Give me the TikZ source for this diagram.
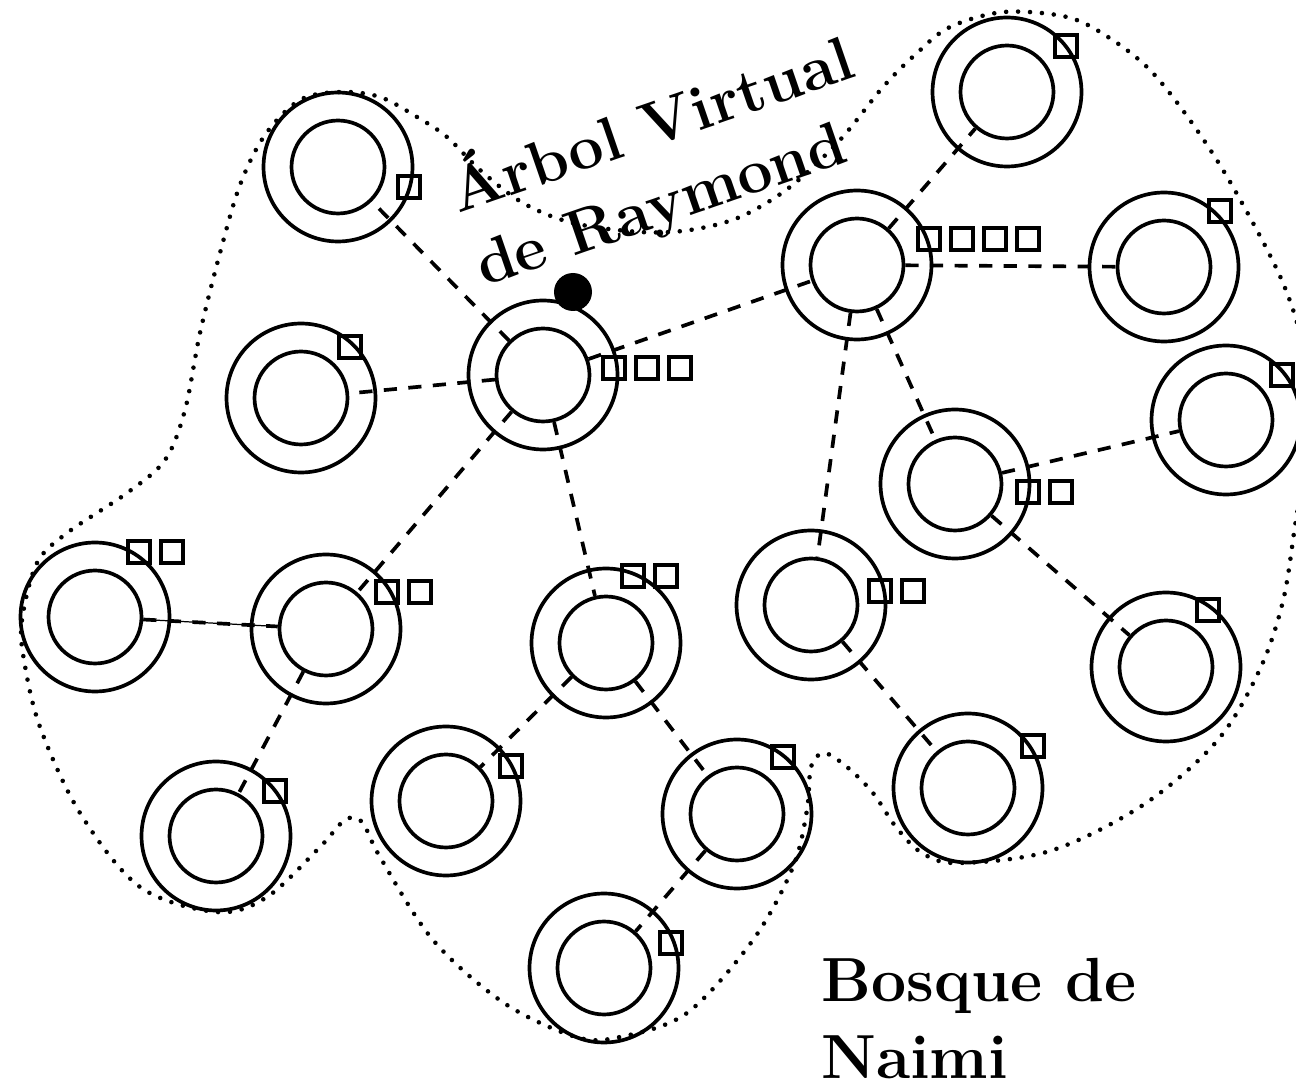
\documentclass[tikz,border=0pt]{standalone}
\usepackage{fontspec}
\tikzstyle{site}=[circle,draw,line width=2.1pt,minimum size=1.86cm,inner sep=0pt]
\tikzstyle{ring}=[line width=2.1pt]
\tikzstyle{msg}=[rectangle,draw,line width=2.3pt,minimum size=0.44cm,inner sep=0pt]
\tikzstyle{link}=[line width=2.1pt,dash pattern=on 7.5pt off 6.5pt]
\tikzstyle{forest}=[line width=2.6pt,line cap=round,dash pattern=on 0pt off 6.8pt]
\tikzstyle{title}=[font=\fontsize{35.5}{44}\selectfont\bfseries,align=left,inner sep=0pt]

\begin{document}
\begin{tikzpicture}[x=0.02cm,y=-0.02cm]
\useasboundingbox (0,0) rectangle (1296,1087);
% sites
\node[site] at (543,375) (r) {};
\node[site] at (338,167) (a) {};
\node[site] at (301,398) (b) {};
\node[site] at (857,265) (c) {};
\node[site] at (1007,92) (d) {};
\node[site] at (1164,267) (e) {};
\node[site] at (955,484) (f) {};
\node[site] at (1226,420) (g) {};
\node[site] at (95,617) (h) {};
\node[site] at (326,629) (i) {};
\node[site] at (606,643) (j) {};
\node[site] at (811,605) (k) {};
\node[site] at (1166,667) (l) {};
\node[site] at (216,836) (m) {};
\node[site] at (446,801) (n) {};
\node[site] at (737,814) (o) {};
\node[site] at (968,788) (p) {};
\node[site] at (604,968) (q) {};
\foreach \s in {r,a,b,c,d,e,f,g,h,i,j,k,l,m,n,o,p,q}
  \draw[ring] (\s) circle (1.49cm);
% token holder
\node[circle,fill=black,minimum size=0.76cm,inner sep=0pt] at (573,292) (token) {};
% pending requests
\foreach \x/\y/\k in {409/187/1, 350/347/1, 614/368/3, 929/239/4, 1066/46/1,
    1220/211/1, 1028/492/2, 1282/375/1, 139/552/2, 387/592/2, 633/576/2,
    880/591/2, 1208/610/1, 275/791/1, 511/766/1, 783/757/1, 1033/746/1, 671/943/1}
  \foreach \i in {1,...,\k}
    \node[msg] at ({\x+33*(\i-1)},\y) (req\x-\i) {};
% tree edges
\draw[link] (r) -- (a);
\draw[link] (r) -- (b);
\draw[link] (r) -- (c);
\draw[link] (r) -- (i);
\draw[link] (r) -- (j);
\draw[link] (c) -- (d);
\draw[link] (c) -- (e);
\draw[link] (c) -- (f);
\draw[link] (c) -- (k);
\draw[link] (f) -- (g);
\draw[link] (f) -- (l);
\draw[link] (k) -- (p);
\draw[link] (i) -- (m);
\draw[link] (j) -- (n);
\draw[link] (j) -- (o);
\draw[link] (o) -- (q);
\draw[link] (h) -- (i);
\draw[line width=0.7pt] (h) -- (i);
% forest boundary
\draw[forest] plot[smooth cycle,tension=0.55] coordinates {
  (22,620) (37,563) (67,533) (127,493) (165,460) (185,410) (200,333) (220,253)
  (240,185) (265,135) (300,100) (340,92) (380,97) (417,117) (447,137) (480,170)
  (523,203) (573,223) (640,232) (690,230) (740,217) (790,187) (840,140) (883,87)
  (917,53) (950,27) (1004,12) (1067,17) (1108,37) (1150,70) (1192,123) (1233,187)
  (1283,283) (1305,360) (1306,450) (1295,526) (1283,601) (1260,669) (1217,741)
  (1143,805) (1050,851) (958,863) (922,853) (896,827) (873,793) (847,767)
  (824,753) (811,767) (807,810) (793,867) (753,940) (687,1013) (620,1037)
  (576,1037) (504,1003) (433,940) (380,857) (362,822) (345,820) (320,847)
  (267,897) (217,912) (140,887) (80,813) (40,727) (24,660)};
% labels
\node[title,rotate=19,anchor=north west] at (440,160) (tree) {Árbol Virtual\\de Raymond};
\node[title,anchor=north west] at (821,958) (naimi) {Bosque de\\Naimi};
\end{tikzpicture}
\end{document}
